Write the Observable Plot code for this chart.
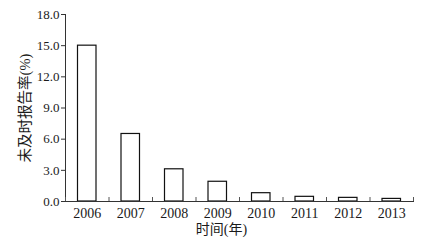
<!DOCTYPE html>
<html><head><meta charset="utf-8">
<script src="https://cdn.jsdelivr.net/npm/d3@7"></script>
<script src="https://cdn.jsdelivr.net/npm/@observablehq/plot@0.6"></script>
<style>body{margin:0;background:#fff}</style>
</head><body><div id="chart"></div>
<script>
const years = [2006, 2007, 2008, 2009, 2010, 2011, 2012, 2013];
const rates = [15.0, 6.5, 3.1, 1.9, 0.8, 0.45, 0.35, 0.25];
const yTicks = [0, 3, 6, 9, 12, 15, 18];
const xLabel = "时间(年)";
const yLabel = "未及时报告率(%)";

const data = years.map((y, i) => ({year: y, rate: rates[i]}));
const bounds = years.map(y => y - 0.5).concat([years[years.length - 1] + 0.5]);

const chart = Plot.plot({
  width: 421, height: 241,
  marginLeft: 65, marginRight: 8, marginTop: 14, marginBottom: 40,
  style: {fontFamily: "'Liberation Serif','Noto Sans CJK SC',serif", fontSize: "13px", color: "#1a1a1a", background: "#fff"},
  x: {type: "linear", domain: [bounds[0], bounds[bounds.length - 1]]},
  y: {domain: [0, 18]},
  marks: [
    Plot.rectY(data, {x1: d => d.year - 0.5, x2: d => d.year + 0.5, y: "rate", fill: "white", stroke: "#111", strokeWidth: 1.2, insetLeft: 12.5, insetRight: 12.5}),
    Plot.frame({anchor: "left", stroke: "#333"}),
    Plot.frame({anchor: "bottom", stroke: "#333"}),
    Plot.axisY(yTicks, {tickSize: 4, tickPadding: 2, tickFormat: d3.format(".1f"), label: null, stroke: "#333", fontSize: 13}),
    Plot.axisX(bounds, {tickSize: -4, tickFormat: () => "", label: null, stroke: "#555"}),
    Plot.axisX(years, {tickSize: 0, tickPadding: 7, tickFormat: d => String(d), label: null, fontSize: 14}),
    Plot.text([xLabel], {frameAnchor: "bottom", textAnchor: "middle", dx: -18, dy: 28, fontSize: 14, lineAnchor: "middle"}),
    Plot.text([yLabel], {frameAnchor: "left", textAnchor: "middle", lineAnchor: "middle", rotate: -90, dx: -40, fontSize: 14.5})
  ]
});
document.getElementById("chart").appendChild(chart);
</script>
</body></html>
